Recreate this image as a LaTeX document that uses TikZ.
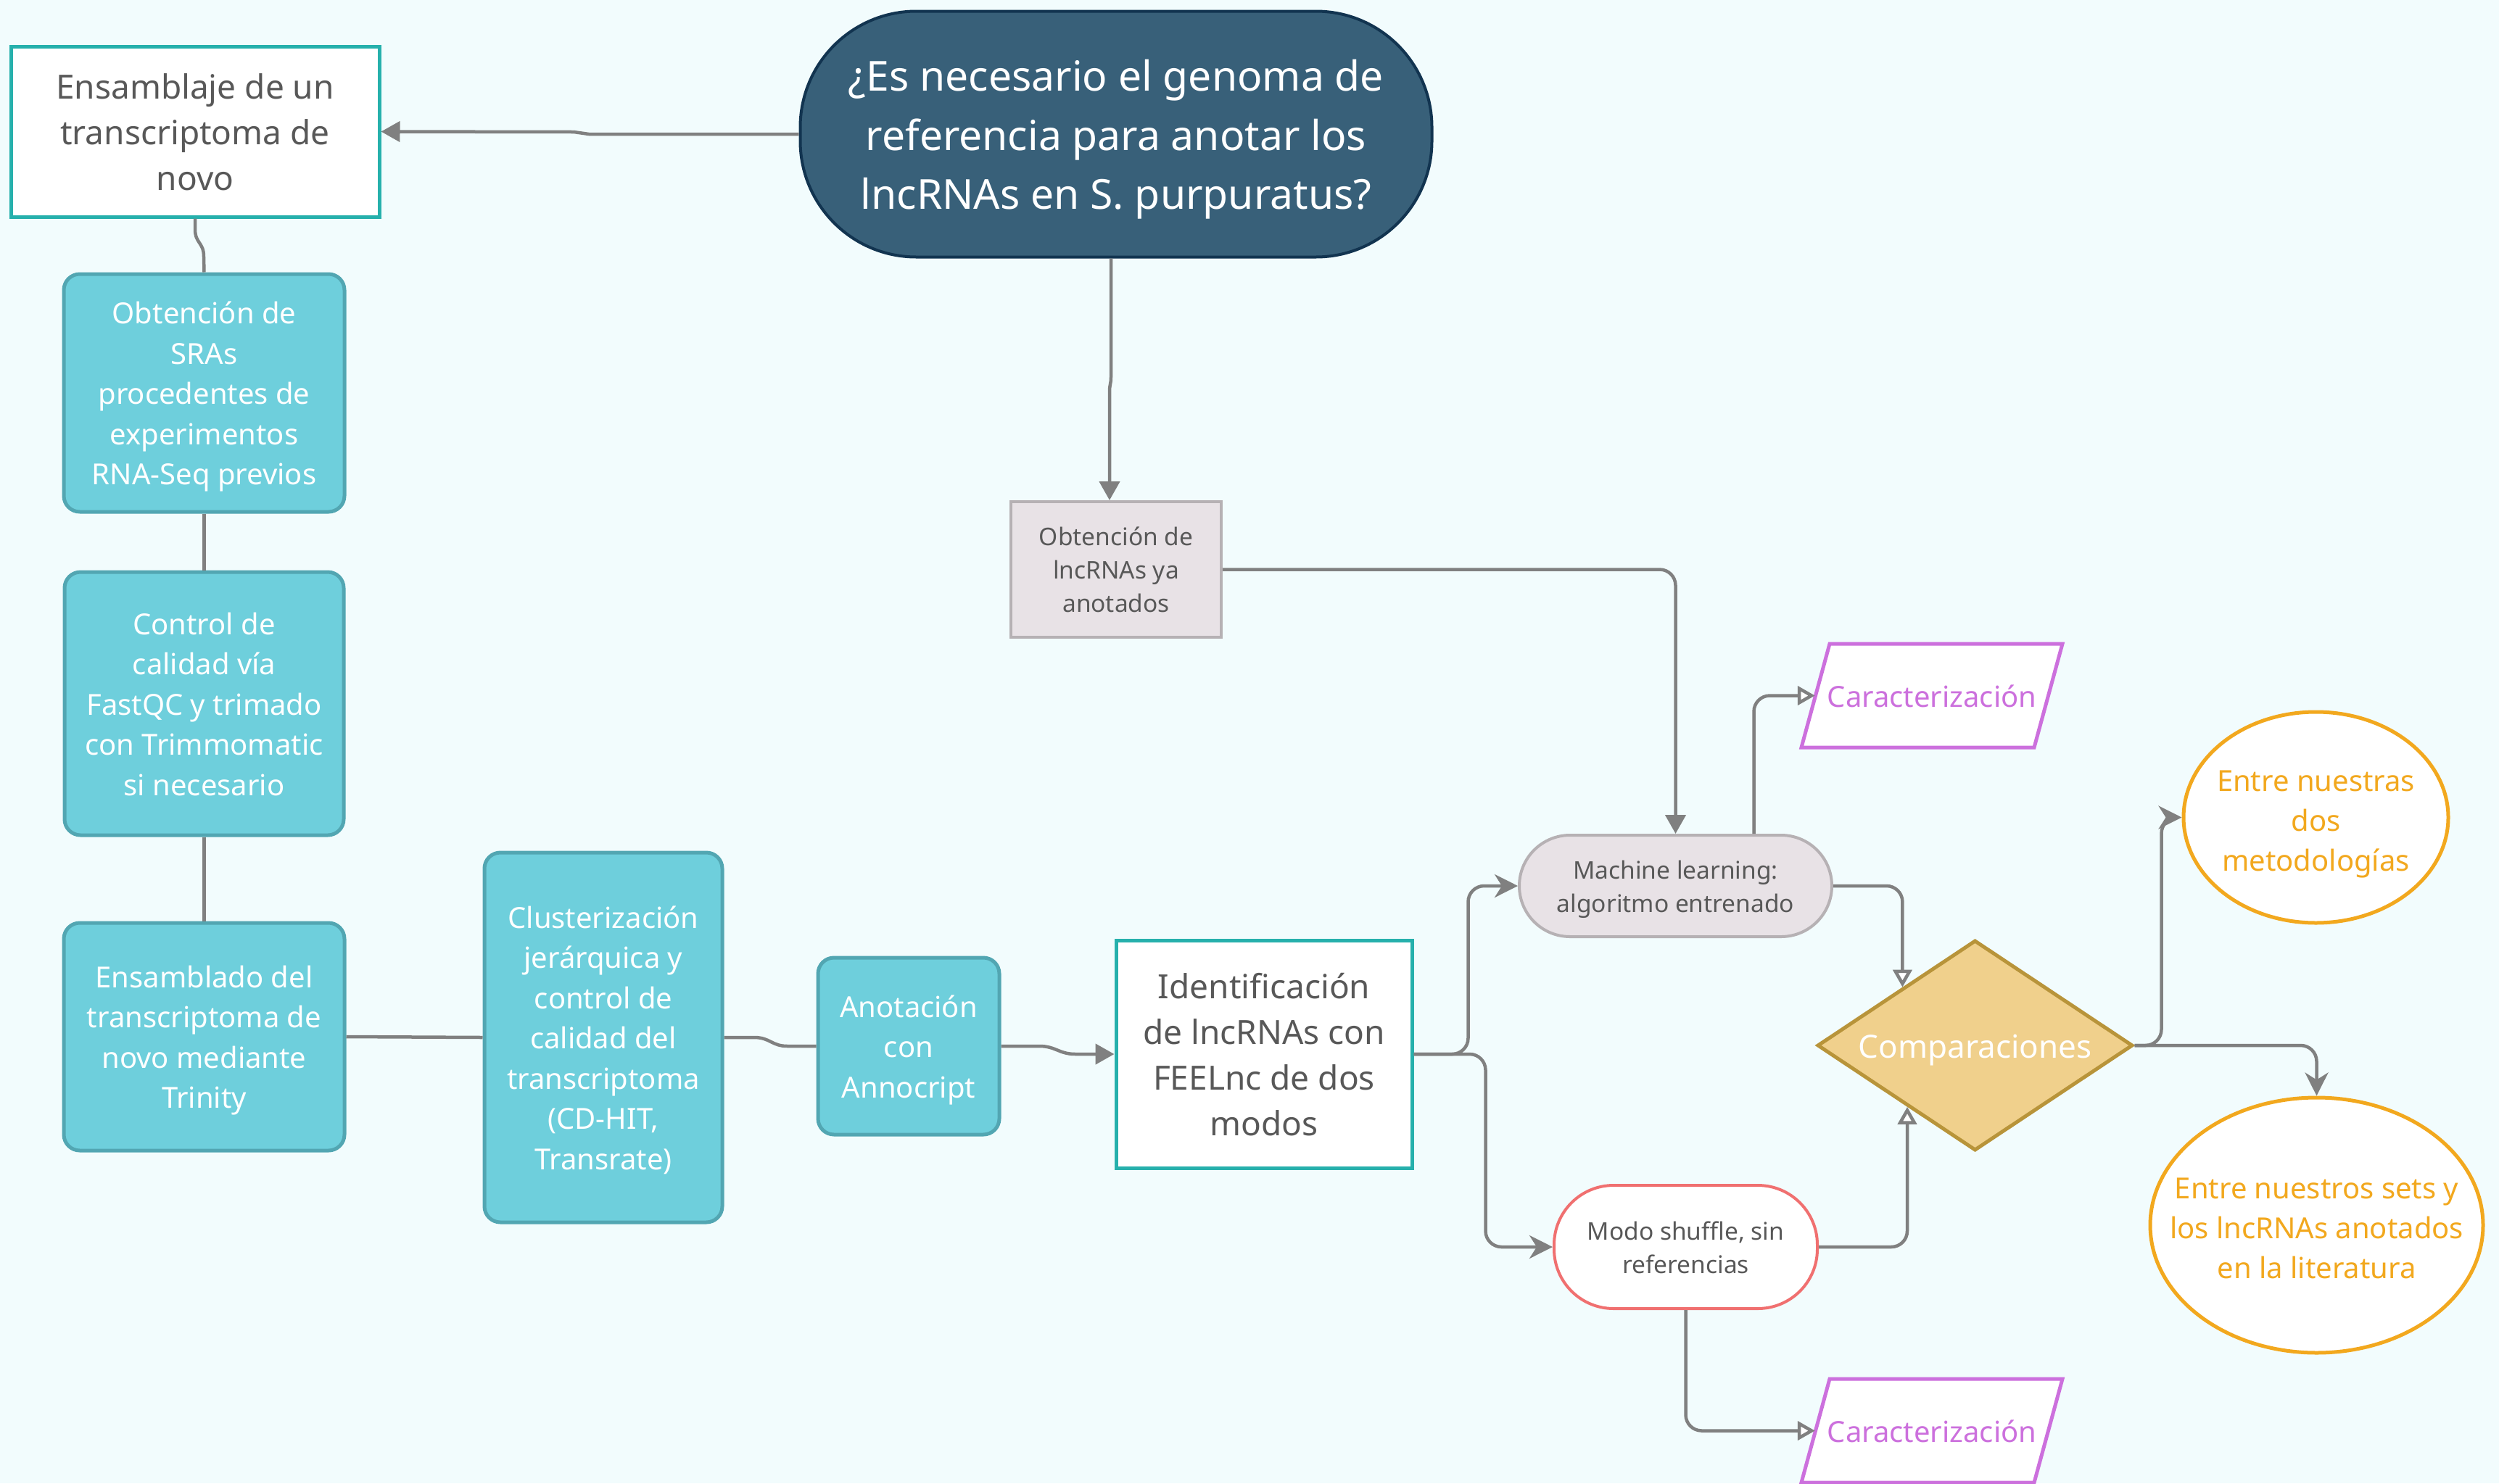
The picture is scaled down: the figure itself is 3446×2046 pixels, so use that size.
\documentclass[tikz,border=0pt]{standalone}
\usepackage{fontspec}
\setmainfont{Noto Sans}
\usetikzlibrary{arrows.meta,shapes.geometric,calc}
\definecolor{bgc}{RGB}{242,252,253}
\definecolor{titlefill}{RGB}{56,96,121}
\definecolor{titlebd}{RGB}{18,52,80}
\definecolor{bluefill}{RGB}{110,207,220}
\definecolor{bluebd}{RGB}{82,166,178}
\definecolor{tealbd}{RGB}{38,176,172}
\definecolor{grayfill}{RGB}{232,226,230}
\definecolor{graybd}{RGB}{182,177,180}
\definecolor{diafill}{RGB}{240,208,140}
\definecolor{diabd}{RGB}{184,148,58}
\definecolor{modobd}{RGB}{240,112,112}
\definecolor{purp}{RGB}{204,112,221}
\definecolor{orng}{RGB}{242,168,30}
\definecolor{txtgray}{RGB}{88,88,88}
\definecolor{conncol}{RGB}{128,128,128}
\newcommand{\fsz}[2]{\fontsize{#1pt}{#2pt}\selectfont}
\newcommand{\tp}{\rule{0pt}{1.07em}}
\newcommand{\bt}{\rule[-0.29em]{0pt}{0.29em}}
\tikzset{
  titlebox/.style={draw=titlebd, fill=titlefill, line width=4pt, rounded corners=160pt,
    minimum width=871pt, minimum height=339pt, inner sep=0pt, align=center, text=white,
    font=\fsz{57}{81.5}},
  whitebox/.style={draw=tealbd, fill=white, line width=5pt, inner sep=0pt, align=center,
    text=txtgray, font=\fsz{46}{63}},
  bluebox/.style={draw=bluebd, fill=bluefill, line width=5pt, rounded corners=22pt,
    inner sep=0pt, align=center, text=white, font=\fsz{40}{55.5}},
  graybox/.style={draw=graybd, fill=grayfill, line width=4pt, inner sep=0pt, align=center,
    text=txtgray, font=\fsz{33.5}{46}},
  stadium/.style={line width=4pt, inner sep=0pt, align=center, text=txtgray, font=\fsz{33.5}{46}},
  parashape/.style={draw=purp, fill=white, line width=5pt},
  paratext/.style={text=purp, font=\fsz{40}{55}, inner sep=0pt, minimum width=322pt, minimum height=143pt},
  diabox/.style={shape=diamond, draw=diabd, fill=diafill, line width=5pt, inner sep=0pt,
    minimum width=435pt, minimum height=290pt},
  ellbox/.style={shape=ellipse, draw=orng, fill=white, line width=5pt, inner sep=0pt},
  elltext/.style={text=orng, align=center, font=\fsz{40}{55}},
  conn/.style={draw=conncol, line width=4.5pt, rounded corners=22pt},
  tri/.style={-{Triangle[length=26pt,width=28pt]}},
  stl/.style={-{Stealth[length=32pt,width=32pt,inset=10pt]}},
  opn/.style={-{Triangle[length=24pt,width=26pt,fill=white]}}
}
\begin{document}
\begin{tikzpicture}[x=1pt,y=-1pt]
\fill[bgc] (0,0) rectangle (3446,2046);
\useasboundingbox (0,0) rectangle (3446,2046);

% nodes
\node[titlebox] (title) at (1539,185) {\tp¿Es necesario el genoma de\\referencia para anotar los\\lncRNAs en S. purpuratus?\bt};
\node[whitebox, minimum width=508pt, minimum height=235pt] (box2) at (269,181.5) {\tp Ensamblaje de un\\transcriptoma de\\novo\bt};
\node[bluebox, minimum width=387pt, minimum height=328pt] (box3) at (281.5,542) {\tp Obtención de\\SRAs\\procedentes de\\experimentos\\RNA-Seq previos\bt};
\node[bluebox, minimum width=385pt, minimum height=363pt] (box4) at (281.5,970.5) {\tp Control de\\calidad vía\\FastQC y trimado\\con Trimmomatic\\si necesario\bt};
\node[bluebox, minimum width=387pt, minimum height=314pt] (box5) at (281.5,1430) {\tp Ensamblado del\\transcriptoma de\\novo mediante\\Trinity\bt};
\node[bluebox, minimum width=328pt, minimum height=510pt] (box6) at (832,1431) {\tp Clusterización\\jerárquica y\\control de\\calidad del\\transcriptoma\\(CD-HIT,\\Transrate)\bt};
\node[bluebox, minimum width=250pt, minimum height=244pt] (box7) at (1253,1443) {\tp Anotación\\con\\Annocript\bt};
\node[whitebox, minimum width=408pt, minimum height=314pt] (box8) at (1743,1454) {\tp Identificación\\de lncRNAs con\\FEELnc de dos\\modos\bt};
\node[graybox, minimum width=290pt, minimum height=187pt] (box9) at (1539,785.5) {\tp Obtención de\\lncRNAs ya\\anotados\bt};
\node[stadium, draw=graybd, fill=grayfill, rounded corners=70pt, minimum width=431pt, minimum height=140pt] (ml) at (2310.5,1222) {\tp Machine learning:\\algoritmo entrenado\bt};
\node[stadium, draw=modobd, fill=white, rounded corners=82pt, minimum width=363pt, minimum height=170pt] (modo) at (2324.5,1720) {\tp Modo shuffle, sin\\referencias\bt};

\coordinate (c1) at (2664,959.5);
\draw[parashape] ([xshift=-141pt,yshift=71.5pt]c1) -- ([xshift=180pt,yshift=71.5pt]c1) -- ([xshift=141pt,yshift=-71.5pt]c1) -- ([xshift=-180pt,yshift=-71.5pt]c1) -- cycle;
\node[paratext] (car1) at (c1) {\tp Caracterización\bt};
\coordinate (c2) at (2664,1973.5);
\draw[parashape] ([xshift=-141pt,yshift=71.5pt]c2) -- ([xshift=180pt,yshift=71.5pt]c2) -- ([xshift=141pt,yshift=-71.5pt]c2) -- ([xshift=-180pt,yshift=-71.5pt]c2) -- cycle;
\node[paratext] (car2) at (c2) {\tp Caracterización\bt};

\node[diabox] (cmp) at (2723.5,1442) {};
\node[text=white, font=\fsz{44}{60}] at (cmp.center) {\tp Comparaciones\bt};
\node[ellbox, minimum width=365pt, minimum height=291pt] (ell1) at (3193.5,1127.5) {};
\node[elltext] at ([yshift=-3pt]ell1.center) {\tp Entre nuestras\\dos\\metodologías\bt};
\node[ellbox, minimum width=459pt, minimum height=352pt] (ell2) at (3194.5,1690) {};
\node[elltext] at ([yshift=-3pt]ell2.center) {\tp Entre nuestros sets y\\los lncRNAs anotados\\en la literatura\bt};

\coordinate (cmpA) at ($(cmp.west)!0.545!(cmp.north)$);
\coordinate (cmpB) at ($(cmp.west)!0.575!(cmp.south)$);

% connectors
\draw[conn, tri, rounded corners=0pt] (title.west) -- (812,185) -- (791,182) -- (box2.east);
\draw[conn, rounded corners=0pt] (box2.south) -- (269,316) .. controls (269,336) and (281,334) .. (281,354) -- (box3.north);
\draw[conn] (box3.south) -- (box4.north);
\draw[conn] (box4.south) -- (box5.north);
\draw[conn] (box5.east) -- (box6.west);
\draw[conn, rounded corners=0pt] (box6.east) -- (1040,1431) .. controls (1062,1431) and (1064,1443) .. (1086,1443) -- (box7.west);
\draw[conn, tri, rounded corners=0pt] (box7.east) -- (1433,1443) .. controls (1456,1443) and (1460,1454) .. (1483,1454) -- (box8.west);
\draw[conn, tri, rounded corners=0pt] ([xshift=-7pt]title.south) -- (1532,520) .. controls (1532,530) and (1530,530) .. (1530,540) -- ([xshift=-9pt]box9.north);
\draw[conn, tri] (box9.east) -| (ml.north);
\draw[conn, stl] (box8.east) -- ++(75,0) |- (ml.west);
\draw[conn, stl] (box8.east) -- ++(99,0) |- (modo.west);
\draw[conn, opn] ([xshift=108pt]ml.north) |- (car1.west);
\draw[conn, opn] (ml.east) -| (cmpA);
\draw[conn, opn] (modo.east) -| (cmpB);
\draw[conn, opn] (modo.south) |- (car2.west);
\draw[conn, stl] (cmp.east) -- ++(37,0) |- (ell1.west);
\draw[conn, stl] (cmp.east) -| (ell2.north);
\end{tikzpicture}
\end{document}
